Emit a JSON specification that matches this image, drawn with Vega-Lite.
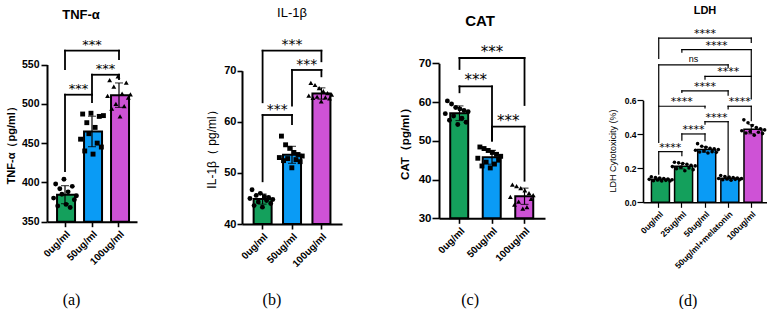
{
"$schema": "https://vega.github.io/schema/vega-lite/v6.json",
"padding": {"left": 5, "top": 4, "right": 0, "bottom": 0},
"config": {
  "view": {"stroke": null},
  "font": "Liberation Sans",
  "axis": {"domainColor": "black", "tickColor": "black", "labelColor": "black", "titleColor": "black", "grid": false, "domainWidth": 2, "tickWidth": 1.6, "labelFont": "Liberation Sans", "titleFont": "Liberation Sans"},
  "title": {"color": "black", "font": "Liberation Sans"}
},
"datasets": {
  "tnf": [
    {"g":"0ug/ml","r":1,"v":380},{"g":"0ug/ml","r":2,"v":398},{"g":"0ug/ml","r":3,"v":370},{"g":"0ug/ml","r":4,"v":392},{"g":"0ug/ml","r":5,"v":385},{"g":"0ug/ml","r":6,"v":404},{"g":"0ug/ml","r":7,"v":372},{"g":"0ug/ml","r":8,"v":388},{"g":"0ug/ml","r":9,"v":368},{"g":"0ug/ml","r":10,"v":395},{"g":"0ug/ml","r":11,"v":378},{"g":"0ug/ml","r":12,"v":383},
    {"g":"50ug/ml","r":1,"v":455},{"g":"50ug/ml","r":2,"v":487},{"g":"50ug/ml","r":3,"v":440},{"g":"50ug/ml","r":4,"v":476},{"g":"50ug/ml","r":5,"v":462},{"g":"50ug/ml","r":6,"v":488},{"g":"50ug/ml","r":7,"v":436},{"g":"50ug/ml","r":8,"v":470},{"g":"50ug/ml","r":9,"v":450},{"g":"50ug/ml","r":10,"v":484},{"g":"50ug/ml","r":11,"v":445},{"g":"50ug/ml","r":12,"v":485},
    {"g":"100ug/ml","r":1,"v":510},{"g":"100ug/ml","r":2,"v":530},{"g":"100ug/ml","r":3,"v":494},{"g":"100ug/ml","r":4,"v":522},{"g":"100ug/ml","r":5,"v":500},{"g":"100ug/ml","r":6,"v":535},{"g":"100ug/ml","r":7,"v":484},{"g":"100ug/ml","r":8,"v":513},{"g":"100ug/ml","r":9,"v":497},{"g":"100ug/ml","r":10,"v":527},{"g":"100ug/ml","r":11,"v":508},{"g":"100ug/ml","r":12,"v":512}
  ],
  "il1b": [
    {"g":"0ug/ml","r":1,"v":45.0},{"g":"0ug/ml","r":2,"v":46.7},{"g":"0ug/ml","r":3,"v":43.6},{"g":"0ug/ml","r":4,"v":45.6},{"g":"0ug/ml","r":5,"v":44.3},{"g":"0ug/ml","r":6,"v":46.0},{"g":"0ug/ml","r":7,"v":43.3},{"g":"0ug/ml","r":8,"v":45.4},{"g":"0ug/ml","r":9,"v":44.6},{"g":"0ug/ml","r":10,"v":45.2},{"g":"0ug/ml","r":11,"v":44.0},{"g":"0ug/ml","r":12,"v":44.8},
    {"g":"50ug/ml","r":1,"v":53.0},{"g":"50ug/ml","r":2,"v":57.2},{"g":"50ug/ml","r":3,"v":52.4},{"g":"50ug/ml","r":4,"v":55.5},{"g":"50ug/ml","r":5,"v":52.8},{"g":"50ug/ml","r":6,"v":54.8},{"g":"50ug/ml","r":7,"v":51.0},{"g":"50ug/ml","r":8,"v":54.0},{"g":"50ug/ml","r":9,"v":52.6},{"g":"50ug/ml","r":10,"v":53.6},{"g":"50ug/ml","r":11,"v":52.2},{"g":"50ug/ml","r":12,"v":53.3},
    {"g":"100ug/ml","r":1,"v":65.1},{"g":"100ug/ml","r":2,"v":67.6},{"g":"100ug/ml","r":3,"v":64.7},{"g":"100ug/ml","r":4,"v":67.2},{"g":"100ug/ml","r":5,"v":64.9},{"g":"100ug/ml","r":6,"v":66.6},{"g":"100ug/ml","r":7,"v":64.0},{"g":"100ug/ml","r":8,"v":66.0},{"g":"100ug/ml","r":9,"v":64.8},{"g":"100ug/ml","r":10,"v":65.6},{"g":"100ug/ml","r":11,"v":64.6},{"g":"100ug/ml","r":12,"v":65.3}
  ],
  "cat": [
    {"g":"0ug/ml","r":1,"v":57.0},{"g":"0ug/ml","r":2,"v":60.3},{"g":"0ug/ml","r":3,"v":55.3},{"g":"0ug/ml","r":4,"v":59.5},{"g":"0ug/ml","r":5,"v":56.4},{"g":"0ug/ml","r":6,"v":58.6},{"g":"0ug/ml","r":7,"v":54.2},{"g":"0ug/ml","r":8,"v":58.2},{"g":"0ug/ml","r":9,"v":55.8},{"g":"0ug/ml","r":10,"v":57.8},{"g":"0ug/ml","r":11,"v":54.8},{"g":"0ug/ml","r":12,"v":57.5},
    {"g":"50ug/ml","r":1,"v":45.5},{"g":"50ug/ml","r":2,"v":48.4},{"g":"50ug/ml","r":3,"v":43.5},{"g":"50ug/ml","r":4,"v":48.0},{"g":"50ug/ml","r":5,"v":44.5},{"g":"50ug/ml","r":6,"v":47.5},{"g":"50ug/ml","r":7,"v":43.0},{"g":"50ug/ml","r":8,"v":47.0},{"g":"50ug/ml","r":9,"v":44.0},{"g":"50ug/ml","r":10,"v":46.5},{"g":"50ug/ml","r":11,"v":45.0},{"g":"50ug/ml","r":12,"v":46.0},
    {"g":"100ug/ml","r":1,"v":35.5},{"g":"100ug/ml","r":2,"v":38.7},{"g":"100ug/ml","r":3,"v":33.5},{"g":"100ug/ml","r":4,"v":38.3},{"g":"100ug/ml","r":5,"v":34.3},{"g":"100ug/ml","r":6,"v":37.8},{"g":"100ug/ml","r":7,"v":32.5},{"g":"100ug/ml","r":8,"v":37.2},{"g":"100ug/ml","r":9,"v":32.9},{"g":"100ug/ml","r":10,"v":36.5},{"g":"100ug/ml","r":11,"v":35.0},{"g":"100ug/ml","r":12,"v":36.0}
  ],
  "ldh": [
    {"g":"0ug/ml","r":1,"v":0.135},{"g":"0ug/ml","r":2,"v":0.150},{"g":"0ug/ml","r":3,"v":0.127},{"g":"0ug/ml","r":4,"v":0.146},{"g":"0ug/ml","r":5,"v":0.131},{"g":"0ug/ml","r":6,"v":0.142},{"g":"0ug/ml","r":7,"v":0.125},{"g":"0ug/ml","r":8,"v":0.140},{"g":"0ug/ml","r":9,"v":0.129},{"g":"0ug/ml","r":10,"v":0.137},{"g":"0ug/ml","r":11,"v":0.125},{"g":"0ug/ml","r":12,"v":0.133},
    {"g":"25ug/ml","r":1,"v":0.210},{"g":"25ug/ml","r":2,"v":0.236},{"g":"25ug/ml","r":3,"v":0.198},{"g":"25ug/ml","r":4,"v":0.232},{"g":"25ug/ml","r":5,"v":0.206},{"g":"25ug/ml","r":6,"v":0.228},{"g":"25ug/ml","r":7,"v":0.186},{"g":"25ug/ml","r":8,"v":0.224},{"g":"25ug/ml","r":9,"v":0.202},{"g":"25ug/ml","r":10,"v":0.218},{"g":"25ug/ml","r":11,"v":0.192},{"g":"25ug/ml","r":12,"v":0.214},
    {"g":"50ug/ml","r":1,"v":0.306},{"g":"50ug/ml","r":2,"v":0.345},{"g":"50ug/ml","r":3,"v":0.296},{"g":"50ug/ml","r":4,"v":0.330},{"g":"50ug/ml","r":5,"v":0.302},{"g":"50ug/ml","r":6,"v":0.324},{"g":"50ug/ml","r":7,"v":0.290},{"g":"50ug/ml","r":8,"v":0.318},{"g":"50ug/ml","r":9,"v":0.298},{"g":"50ug/ml","r":10,"v":0.314},{"g":"50ug/ml","r":11,"v":0.294},{"g":"50ug/ml","r":12,"v":0.310},
    {"g":"50ug/ml+melatonin","r":1,"v":0.140},{"g":"50ug/ml+melatonin","r":2,"v":0.158},{"g":"50ug/ml+melatonin","r":3,"v":0.133},{"g":"50ug/ml+melatonin","r":4,"v":0.152},{"g":"50ug/ml+melatonin","r":5,"v":0.137},{"g":"50ug/ml+melatonin","r":6,"v":0.148},{"g":"50ug/ml+melatonin","r":7,"v":0.130},{"g":"50ug/ml+melatonin","r":8,"v":0.145},{"g":"50ug/ml+melatonin","r":9,"v":0.135},{"g":"50ug/ml+melatonin","r":10,"v":0.142},{"g":"50ug/ml+melatonin","r":11,"v":0.132},{"g":"50ug/ml+melatonin","r":12,"v":0.139},
    {"g":"100ug/ml","r":1,"v":0.421},{"g":"100ug/ml","r":2,"v":0.485},{"g":"100ug/ml","r":3,"v":0.408},{"g":"100ug/ml","r":4,"v":0.468},{"g":"100ug/ml","r":5,"v":0.416},{"g":"100ug/ml","r":6,"v":0.452},{"g":"100ug/ml","r":7,"v":0.395},{"g":"100ug/ml","r":8,"v":0.440},{"g":"100ug/ml","r":9,"v":0.412},{"g":"100ug/ml","r":10,"v":0.432},{"g":"100ug/ml","r":11,"v":0.404},{"g":"100ug/ml","r":12,"v":0.426}
  ],
  "bra": [
    {"from":"0ug/ml","to":"50ug/ml","y":511.6,"yl":414.5,"yr":502.3,"lab":"***","at":"0ug/ml","p":"b"},
    {"from":"50ug/ml","to":"100ug/ml","y":537.0,"yl":511.6,"yr":531.6,"lab":"***","at":"50ug/ml","p":"b"},
    {"from":"0ug/ml","to":"100ug/ml","y":567.6,"yl":544.3,"yr":557.0,"lab":"***","at":"50ug/ml","p":"c"}
  ],
  "brb": [
    {"from":"0ug/ml","to":"50ug/ml","y":61.33,"yl":48.36,"yr":59.57,"lab":"***","at":"0ug/ml","p":"b"},
    {"from":"50ug/ml","to":"100ug/ml","y":70.14,"yl":63.15,"yr":68.9,"lab":"***","at":"50ug/ml","p":"b"},
    {"from":"0ug/ml","to":"100ug/ml","y":73.91,"yl":63.82,"yr":71.84,"lab":"***","at":"50ug/ml","p":"c"}
  ],
  "brc": [
    {"from":"0ug/ml","to":"50ug/ml","y":64.06,"yl":62.52,"yr":50.03,"lab":"***","at":"0ug/ml","p":"b"},
    {"from":"50ug/ml","to":"100ug/ml","y":53.64,"yl":50.03,"yr":39.7,"lab":"***","at":"50ug/ml","p":"b"},
    {"from":"0ug/ml","to":"100ug/ml","y":71.37,"yl":68.53,"yr":59.24,"lab":"***","at":"50ug/ml","p":"c"}
  ],
  "brd": [
    {"from":"0ug/ml","to":"25ug/ml","y":0.298,"yl":0.166,"yr":0.274,"lab":"****","at":"0ug/ml","p":"b"},
    {"from":"25ug/ml","to":"50ug/ml","y":0.402,"yl":0.366,"yr":0.362,"lab":"****","at":"25ug/ml","p":"b"},
    {"from":"50ug/ml","to":"50ug/ml+melatonin","y":0.474,"yl":0.46,"yr":0.16,"lab":"****","at":"50ug/ml","p":"b"},
    {"from":"0ug/ml","to":"50ug/ml","y":0.565,"yl":0.353,"yr":0.556,"lab":"****","at":"25ug/ml","p":"c"},
    {"from":"50ug/ml+melatonin","to":"100ug/ml","y":0.565,"yl":0.549,"yr":0.48,"lab":"****","at":"50ug/ml+melatonin","p":"b"},
    {"from":"25ug/ml","to":"50ug/ml+melatonin","y":0.656,"yl":0.646,"yr":0.631,"lab":"****","at":"50ug/ml","p":"c"},
    {"from":"50ug/ml","to":"100ug/ml","y":0.741,"yl":0.725,"yr":0.608,"lab":"****","at":"50ug/ml+melatonin","p":"c"},
    {"from":"0ug/ml","to":"50ug/ml+melatonin","y":0.809,"yl":0.568,"yr":0.794,"lab":"ns","at":"25ug/ml","p":"b"},
    {"from":"25ug/ml","to":"100ug/ml","y":0.898,"yl":0.884,"yr":0.745,"lab":"****","at":"50ug/ml","p":"b"},
    {"from":"0ug/ml","to":"100ug/ml","y":0.966,"yl":0.847,"yr":0.941,"lab":"****","at":"50ug/ml","p":"c"}
  ]
},
"spacing": 57,
"hconcat": [
 {"spacing": 68,
  "hconcat": [
  {
   "width": 90, "height": 196.7,
   "title": {"text": "TNF-α", "fontSize": 13, "fontWeight": "bold", "frame": "group", "anchor": "middle", "dx": -11, "dy": -3.5, "offset": 0},
   "layer": [
    {"data": {"name": "tnf"}, "mark": {"type": "bar", "stroke": "black", "strokeWidth": 2, "width": {"band": 0.59}},
     "encoding": {
      "x": {"field": "g", "type": "nominal", "title": "(a)", "scale": {"domain": ["0ug/ml","50ug/ml","100ug/ml"], "paddingInner": 0, "paddingOuter": 0.167},
            "axis": {"titleFont": "Liberation Serif", "titleFontSize": 16, "titleFontWeight": "normal", "titleX": 24, "titleY": 78, "titleAlign": "center", "titleBaseline": "middle", "titleAngle": 0, "labelAngle": -45, "labelFontSize": 10, "labelFontWeight": "bold", "labelPadding": 2, "tickSize": 5}},
      "y": {"field": "v", "aggregate": "mean", "type": "quantitative", "title": "TNF-α（pg/ml）", "scale": {"domain": [350, 600.3], "nice": false, "zero": false},
            "axis": {"values": [350,400,450,500,550], "domainDash": [157.2, 1000], "tickSize": 6, "labelPadding": 2, "labelFontSize": 10.5, "labelFontWeight": "bold", "titleFontSize": 11, "titleFontWeight": "bold", "titleX": -35.7, "titleY": 117.3, "titleAngle": -90, "titleAlign": "center", "titleBaseline": "middle"}},
      "fill": {"field": "g", "type": "nominal", "scale": {"domain": ["0ug/ml","50ug/ml","100ug/ml"], "range": ["#14A05C", "#0A9BF5", "#CE52D6"]}, "legend": null}
     }},
    {"data": {"name": "tnf"}, "mark": {"type": "errorbar", "extent": "stdev", "color": "black", "ticks": true, "size": 8, "thickness": 1.2},
     "encoding": {"x": {"field": "g", "type": "nominal", "title": "(a)", "scale": {"domain": ["0ug/ml","50ug/ml","100ug/ml"]}}, "y": {"field": "v", "type": "quantitative", "title": "TNF-α（pg/ml）", "scale": {"domain": [350, 600.3], "nice": false, "zero": false}}}},
    {"data": {"name": "tnf"}, "mark": {"type": "point", "filled": true, "color": "black", "opacity": 1, "size": 24},
     "encoding": {"x": {"field": "g", "type": "nominal", "title": "(a)", "scale": {"domain": ["0ug/ml","50ug/ml","100ug/ml"]}},
      "xOffset": {"field": "r", "type": "nominal", "scale": {"paddingInner": 0, "paddingOuter": 4.6}},
      "y": {"field": "v", "type": "quantitative", "title": "TNF-α（pg/ml）", "scale": {"domain": [350, 600.3], "nice": false, "zero": false}},
      "shape": {"field": "g", "type": "nominal", "scale": {"domain": ["0ug/ml","50ug/ml","100ug/ml"], "range": ["circle","square","triangle-up"]}, "legend": null}}},
    {"data": {"name": "bra"}, "mark": {"type": "rule", "color": "black", "strokeWidth": 1.8, "strokeCap": "square"},
     "encoding": {"x": {"field": "from", "type": "nominal", "title": "(a)", "scale": {"domain": ["0ug/ml","50ug/ml","100ug/ml"]}}, "x2": {"field": "to"}, "y": {"field": "y", "type": "quantitative", "title": "TNF-α（pg/ml）", "scale": {"domain": [350, 600.3], "nice": false, "zero": false}}}},
    {"data": {"name": "bra"}, "mark": {"type": "rule", "color": "black", "strokeWidth": 1.8, "strokeCap": "square"},
     "encoding": {"x": {"field": "from", "type": "nominal", "title": "(a)", "scale": {"domain": ["0ug/ml","50ug/ml","100ug/ml"]}}, "y": {"field": "y", "type": "quantitative", "title": "TNF-α（pg/ml）", "scale": {"domain": [350, 600.3], "nice": false, "zero": false}}, "y2": {"field": "yl"}}},
    {"data": {"name": "bra"}, "mark": {"type": "rule", "color": "black", "strokeWidth": 1.8, "strokeCap": "square"},
     "encoding": {"x": {"field": "to", "type": "nominal", "title": "(a)", "scale": {"domain": ["0ug/ml","50ug/ml","100ug/ml"]}}, "y": {"field": "y", "type": "quantitative", "title": "TNF-α（pg/ml）", "scale": {"domain": [350, 600.3], "nice": false, "zero": false}}, "y2": {"field": "yr"}}},
    {"data": {"name": "bra"}, "transform": [{"filter": "datum.p == 'b'"}], "mark": {"type": "text", "font": "DejaVu Sans", "fontSize": 13, "baseline": "alphabetic", "dy": -2, "color": "black"},
     "encoding": {"x": {"field": "at", "type": "nominal", "title": "(a)", "bandPosition": 1, "scale": {"domain": ["0ug/ml","50ug/ml","100ug/ml"]}}, "y": {"field": "y", "type": "quantitative", "title": "TNF-α（pg/ml）", "scale": {"domain": [350, 600.3], "nice": false, "zero": false}}, "text": {"field": "lab"}}},
    {"data": {"name": "bra"}, "transform": [{"filter": "datum.p == 'c'"}], "mark": {"type": "text", "font": "DejaVu Sans", "fontSize": 13, "baseline": "alphabetic", "dy": -2, "color": "black"},
     "encoding": {"x": {"field": "at", "type": "nominal", "title": "(a)", "bandPosition": 0.5, "scale": {"domain": ["0ug/ml","50ug/ml","100ug/ml"]}}, "y": {"field": "y", "type": "quantitative", "title": "TNF-α（pg/ml）", "scale": {"domain": [350, 600.3], "nice": false, "zero": false}}, "text": {"field": "lab"}}}
   ]
  },
  {
   "width": 100, "height": 199,
   "title": {"text": "IL-1β", "fontSize": 13, "fontWeight": "normal", "frame": "group", "anchor": "middle", "dx": 0, "dy": -5, "offset": 0},
   "layer": [
    {"data": {"name": "il1b"}, "mark": {"type": "bar", "stroke": "black", "strokeWidth": 2, "width": {"band": 0.61}},
     "encoding": {
      "x": {"field": "g", "type": "nominal", "title": "(b)", "scale": {"domain": ["0ug/ml","50ug/ml","100ug/ml"], "paddingInner": 0, "paddingOuter": 0.2},
            "axis": {"titleFont": "Liberation Serif", "titleFontSize": 16, "titleFontWeight": "normal", "titleX": 29.4, "titleY": 75.3, "titleAlign": "center", "titleBaseline": "middle", "titleAngle": 0, "labelAngle": -45, "labelFontSize": 10, "labelFontWeight": "bold", "labelPadding": 2, "tickSize": 5}},
      "y": {"field": "v", "aggregate": "mean", "type": "quantitative", "title": "IL-1β（ pg/ml）", "scale": {"domain": [40, 78.94], "nice": false, "zero": false},
            "axis": {"values": [40,50,60,70], "domainDash": [153.3, 1000], "tickSize": 5, "labelPadding": 1, "labelFontSize": 11, "labelFontWeight": "bold", "titleFontSize": 12, "titleFontWeight": "normal", "titleX": -30.8, "titleY": 121, "titleAngle": -90, "titleAlign": "center", "titleBaseline": "middle"}},
      "fill": {"field": "g", "type": "nominal", "scale": {"domain": ["0ug/ml","50ug/ml","100ug/ml"], "range": ["#16C47E", "#0A9BF5", "#CE52D6"]}, "legend": null}
     }},
    {"data": {"name": "il1b"}, "mark": {"type": "errorbar", "extent": "stdev", "color": "black", "ticks": true, "size": 8, "thickness": 1.2},
     "encoding": {"x": {"field": "g", "type": "nominal", "title": "(b)", "scale": {"domain": ["0ug/ml","50ug/ml","100ug/ml"]}}, "y": {"field": "v", "type": "quantitative", "title": "IL-1β（ pg/ml）", "scale": {"domain": [40, 78.94], "nice": false, "zero": false}}}},
    {"data": {"name": "il1b"}, "mark": {"type": "point", "filled": true, "color": "black", "opacity": 1, "size": 24},
     "encoding": {"x": {"field": "g", "type": "nominal", "title": "(b)", "scale": {"domain": ["0ug/ml","50ug/ml","100ug/ml"]}},
      "xOffset": {"field": "r", "type": "nominal", "scale": {"paddingInner": 0, "paddingOuter": 5.5}},
      "y": {"field": "v", "type": "quantitative", "title": "IL-1β（ pg/ml）", "scale": {"domain": [40, 78.94], "nice": false, "zero": false}},
      "shape": {"field": "g", "type": "nominal", "scale": {"domain": ["0ug/ml","50ug/ml","100ug/ml"], "range": ["circle","square","triangle-up"]}, "legend": null}}},
    {"data": {"name": "brb"}, "mark": {"type": "rule", "color": "black", "strokeWidth": 1.8, "strokeCap": "square"},
     "encoding": {"x": {"field": "from", "type": "nominal", "title": "(b)", "scale": {"domain": ["0ug/ml","50ug/ml","100ug/ml"]}}, "x2": {"field": "to"}, "y": {"field": "y", "type": "quantitative", "title": "IL-1β（ pg/ml）", "scale": {"domain": [40, 78.94], "nice": false, "zero": false}}}},
    {"data": {"name": "brb"}, "mark": {"type": "rule", "color": "black", "strokeWidth": 1.8, "strokeCap": "square"},
     "encoding": {"x": {"field": "from", "type": "nominal", "title": "(b)", "scale": {"domain": ["0ug/ml","50ug/ml","100ug/ml"]}}, "y": {"field": "y", "type": "quantitative", "title": "IL-1β（ pg/ml）", "scale": {"domain": [40, 78.94], "nice": false, "zero": false}}, "y2": {"field": "yl"}}},
    {"data": {"name": "brb"}, "mark": {"type": "rule", "color": "black", "strokeWidth": 1.8, "strokeCap": "square"},
     "encoding": {"x": {"field": "to", "type": "nominal", "title": "(b)", "scale": {"domain": ["0ug/ml","50ug/ml","100ug/ml"]}}, "y": {"field": "y", "type": "quantitative", "title": "IL-1β（ pg/ml）", "scale": {"domain": [40, 78.94], "nice": false, "zero": false}}, "y2": {"field": "yr"}}},
    {"data": {"name": "brb"}, "transform": [{"filter": "datum.p == 'b'"}], "mark": {"type": "text", "font": "DejaVu Sans", "fontSize": 14, "baseline": "alphabetic", "dy": -1.3, "color": "black"},
     "encoding": {"x": {"field": "at", "type": "nominal", "title": "(b)", "bandPosition": 1, "scale": {"domain": ["0ug/ml","50ug/ml","100ug/ml"]}}, "y": {"field": "y", "type": "quantitative", "title": "IL-1β（ pg/ml）", "scale": {"domain": [40, 78.94], "nice": false, "zero": false}}, "text": {"field": "lab"}}},
    {"data": {"name": "brb"}, "transform": [{"filter": "datum.p == 'c'"}], "mark": {"type": "text", "font": "DejaVu Sans", "fontSize": 14, "baseline": "alphabetic", "dy": -1.3, "color": "black"},
     "encoding": {"x": {"field": "at", "type": "nominal", "title": "(b)", "bandPosition": 0.5, "scale": {"domain": ["0ug/ml","50ug/ml","100ug/ml"]}}, "y": {"field": "y", "type": "quantitative", "title": "IL-1β（ pg/ml）", "scale": {"domain": [40, 78.94], "nice": false, "zero": false}}, "text": {"field": "lab"}}}
   ]
  }
  ]
 },
 {"spacing": 63,
  "hconcat": [
  {
   "width": 106, "height": 193.3,
   "title": {"text": "CAT", "fontSize": 15, "fontWeight": "bold", "frame": "group", "anchor": "middle", "dx": -12, "dy": 4, "offset": 0},
   "layer": [
    {"data": {"name": "cat"}, "mark": {"type": "bar", "stroke": "black", "strokeWidth": 2, "width": {"band": 0.57}},
     "encoding": {
      "x": {"field": "g", "type": "nominal", "title": "(c)", "scale": {"domain": ["0ug/ml","50ug/ml","100ug/ml"], "paddingInner": 0, "paddingOuter": 0.13},
            "axis": {"titleFont": "Liberation Serif", "titleFontSize": 16, "titleFontWeight": "normal", "titleX": 30.6, "titleY": 81.5, "titleAlign": "center", "titleBaseline": "middle", "titleAngle": 0, "labelAngle": -45, "labelFontSize": 10, "labelFontWeight": "bold", "labelPadding": 2, "tickSize": 5}},
      "y": {"field": "v", "aggregate": "mean", "type": "quantitative", "title": "CAT（pg/ml）", "scale": {"domain": [30, 79.88], "nice": false, "zero": false},
            "axis": {"values": [30,40,50,60,70], "domainDash": [155, 1000], "tickSize": 7, "labelPadding": 1, "labelFontSize": 11.5, "labelFontWeight": "bold", "titleFontSize": 11.5, "titleFontWeight": "bold", "titleX": -33.2, "titleY": 115.7, "titleAngle": -90, "titleAlign": "center", "titleBaseline": "middle"}},
      "fill": {"field": "g", "type": "nominal", "scale": {"domain": ["0ug/ml","50ug/ml","100ug/ml"], "range": ["#18BC7A", "#0A9BF5", "#CE52D6"]}, "legend": null}
     }},
    {"data": {"name": "cat"}, "mark": {"type": "errorbar", "extent": "stdev", "color": "black", "ticks": true, "size": 8, "thickness": 1.2},
     "encoding": {"x": {"field": "g", "type": "nominal", "title": "(c)", "scale": {"domain": ["0ug/ml","50ug/ml","100ug/ml"]}}, "y": {"field": "v", "type": "quantitative", "title": "CAT（pg/ml）", "scale": {"domain": [30, 79.88], "nice": false, "zero": false}}}},
    {"data": {"name": "cat"}, "mark": {"type": "point", "filled": true, "color": "black", "opacity": 1, "size": 24},
     "encoding": {"x": {"field": "g", "type": "nominal", "title": "(c)", "scale": {"domain": ["0ug/ml","50ug/ml","100ug/ml"]}},
      "xOffset": {"field": "r", "type": "nominal", "scale": {"paddingInner": 0, "paddingOuter": 5.9}},
      "y": {"field": "v", "type": "quantitative", "title": "CAT（pg/ml）", "scale": {"domain": [30, 79.88], "nice": false, "zero": false}},
      "shape": {"field": "g", "type": "nominal", "scale": {"domain": ["0ug/ml","50ug/ml","100ug/ml"], "range": ["circle","square","triangle-up"]}, "legend": null}}},
    {"data": {"name": "brc"}, "mark": {"type": "rule", "color": "black", "strokeWidth": 1.8, "strokeCap": "square"},
     "encoding": {"x": {"field": "from", "type": "nominal", "title": "(c)", "scale": {"domain": ["0ug/ml","50ug/ml","100ug/ml"]}}, "x2": {"field": "to"}, "y": {"field": "y", "type": "quantitative", "title": "CAT（pg/ml）", "scale": {"domain": [30, 79.88], "nice": false, "zero": false}}}},
    {"data": {"name": "brc"}, "mark": {"type": "rule", "color": "black", "strokeWidth": 1.8, "strokeCap": "square"},
     "encoding": {"x": {"field": "from", "type": "nominal", "title": "(c)", "scale": {"domain": ["0ug/ml","50ug/ml","100ug/ml"]}}, "y": {"field": "y", "type": "quantitative", "title": "CAT（pg/ml）", "scale": {"domain": [30, 79.88], "nice": false, "zero": false}}, "y2": {"field": "yl"}}},
    {"data": {"name": "brc"}, "mark": {"type": "rule", "color": "black", "strokeWidth": 1.8, "strokeCap": "square"},
     "encoding": {"x": {"field": "to", "type": "nominal", "title": "(c)", "scale": {"domain": ["0ug/ml","50ug/ml","100ug/ml"]}}, "y": {"field": "y", "type": "quantitative", "title": "CAT（pg/ml）", "scale": {"domain": [30, 79.88], "nice": false, "zero": false}}, "y2": {"field": "yr"}}},
    {"data": {"name": "brc"}, "transform": [{"filter": "datum.p == 'b'"}], "mark": {"type": "text", "font": "DejaVu Sans", "fontSize": 15, "baseline": "alphabetic", "dy": -1, "color": "black"},
     "encoding": {"x": {"field": "at", "type": "nominal", "title": "(c)", "bandPosition": 1, "scale": {"domain": ["0ug/ml","50ug/ml","100ug/ml"]}}, "y": {"field": "y", "type": "quantitative", "title": "CAT（pg/ml）", "scale": {"domain": [30, 79.88], "nice": false, "zero": false}}, "text": {"field": "lab"}}},
    {"data": {"name": "brc"}, "transform": [{"filter": "datum.p == 'c'"}], "mark": {"type": "text", "font": "DejaVu Sans", "fontSize": 15, "baseline": "alphabetic", "dy": -1, "color": "black"},
     "encoding": {"x": {"field": "at", "type": "nominal", "title": "(c)", "bandPosition": 0.5, "scale": {"domain": ["0ug/ml","50ug/ml","100ug/ml"]}}, "y": {"field": "y", "type": "quantitative", "title": "CAT（pg/ml）", "scale": {"domain": [30, 79.88], "nice": false, "zero": false}}, "text": {"field": "lab"}}}
   ]
  },
  {
   "width": 124, "height": 177.3,
   "title": {"text": "LDH", "fontSize": 11, "fontWeight": "bold", "frame": "group", "anchor": "middle", "dx": 0, "dy": -9.3, "offset": 0},
   "layer": [
    {"data": {"name": "ldh"}, "mark": {"type": "bar", "stroke": "black", "strokeWidth": 1.5, "width": {"band": 0.63}},
     "encoding": {
      "x": {"field": "g", "type": "nominal", "title": "(d)", "scale": {"domain": ["0ug/ml","25ug/ml","50ug/ml","50ug/ml+melatonin","100ug/ml"], "paddingInner": 0, "paddingOuter": 0.18},
            "axis": {"titleFont": "Liberation Serif", "titleFontSize": 16, "titleFontWeight": "normal", "titleX": 44.5, "titleY": 97.9, "titleAlign": "center", "titleBaseline": "middle", "titleAngle": 0, "labelAngle": -45, "labelFontSize": 8.5, "labelFontWeight": "bold", "labelPadding": 2, "tickSize": 5, "tickWidth": 1.2, "domainWidth": 1.6}},
      "y": {"field": "v", "aggregate": "mean", "type": "quantitative", "title": "LDH Cytotoxicity (%)", "scale": {"domain": [0, 1.043], "nice": false, "zero": false},
            "axis": {"values": [0,0.2,0.4,0.6], "format": ".1f", "domainDash": [102, 1000], "tickSize": 6, "tickWidth": 1.2, "domainWidth": 1.6, "labelPadding": 1, "labelFontSize": 8.5, "labelFontWeight": "bold", "titleFontSize": 9, "titleFontWeight": "normal", "titleX": -30.3, "titleY": 125.5, "titleAngle": -90, "titleAlign": "center", "titleBaseline": "middle"}},
      "fill": {"field": "g", "type": "nominal", "scale": {"domain": ["0ug/ml","25ug/ml","50ug/ml","50ug/ml+melatonin","100ug/ml"], "range": ["#D4D4D4", "#A8A8AC", "#8A8A8A", "#FF0A84", "#5E5E5E"]}, "legend": null}
     }},
    {"data": {"name": "ldh"}, "mark": {"type": "errorbar", "extent": "stdev", "color": "black", "ticks": true, "size": 6, "thickness": 1},
     "encoding": {"x": {"field": "g", "type": "nominal", "title": "(d)", "scale": {"domain": ["0ug/ml","25ug/ml","50ug/ml","50ug/ml+melatonin","100ug/ml"]}}, "y": {"field": "v", "type": "quantitative", "title": "LDH Cytotoxicity (%)", "scale": {"domain": [0, 1.043], "nice": false, "zero": false}}}},
    {"data": {"name": "ldh"}, "mark": {"type": "point", "filled": true, "color": "black", "opacity": 1, "size": 13, "shape": "circle"},
     "encoding": {"x": {"field": "g", "type": "nominal", "title": "(d)", "scale": {"domain": ["0ug/ml","25ug/ml","50ug/ml","50ug/ml+melatonin","100ug/ml"]}},
      "xOffset": {"field": "r", "type": "nominal", "scale": {"paddingInner": 0, "paddingOuter": 6.7}},
      "y": {"field": "v", "type": "quantitative", "title": "LDH Cytotoxicity (%)", "scale": {"domain": [0, 1.043], "nice": false, "zero": false}}}},
    {"data": {"name": "brd"}, "mark": {"type": "rule", "color": "black", "strokeWidth": 1.2, "strokeCap": "square"},
     "encoding": {"x": {"field": "from", "type": "nominal", "title": "(d)", "scale": {"domain": ["0ug/ml","25ug/ml","50ug/ml","50ug/ml+melatonin","100ug/ml"]}}, "x2": {"field": "to"}, "y": {"field": "y", "type": "quantitative", "title": "LDH Cytotoxicity (%)", "scale": {"domain": [0, 1.043], "nice": false, "zero": false}}}},
    {"data": {"name": "brd"}, "mark": {"type": "rule", "color": "black", "strokeWidth": 1.2, "strokeCap": "square"},
     "encoding": {"x": {"field": "from", "type": "nominal", "title": "(d)", "scale": {"domain": ["0ug/ml","25ug/ml","50ug/ml","50ug/ml+melatonin","100ug/ml"]}}, "y": {"field": "y", "type": "quantitative", "title": "LDH Cytotoxicity (%)", "scale": {"domain": [0, 1.043], "nice": false, "zero": false}}, "y2": {"field": "yl"}}},
    {"data": {"name": "brd"}, "mark": {"type": "rule", "color": "black", "strokeWidth": 1.2, "strokeCap": "square"},
     "encoding": {"x": {"field": "to", "type": "nominal", "title": "(d)", "scale": {"domain": ["0ug/ml","25ug/ml","50ug/ml","50ug/ml+melatonin","100ug/ml"]}}, "y": {"field": "y", "type": "quantitative", "title": "LDH Cytotoxicity (%)", "scale": {"domain": [0, 1.043], "nice": false, "zero": false}}, "y2": {"field": "yr"}}},
    {"data": {"name": "brd"}, "transform": [{"filter": "datum.p == 'b' && datum.lab != 'ns'"}], "mark": {"type": "text", "font": "DejaVu Sans", "fontSize": 11, "baseline": "alphabetic", "dy": -1, "color": "black"},
     "encoding": {"x": {"field": "at", "type": "nominal", "title": "(d)", "bandPosition": 1, "scale": {"domain": ["0ug/ml","25ug/ml","50ug/ml","50ug/ml+melatonin","100ug/ml"]}}, "y": {"field": "y", "type": "quantitative", "title": "LDH Cytotoxicity (%)", "scale": {"domain": [0, 1.043], "nice": false, "zero": false}}, "text": {"field": "lab"}}},
    {"data": {"name": "brd"}, "transform": [{"filter": "datum.p == 'c'"}], "mark": {"type": "text", "font": "DejaVu Sans", "fontSize": 11, "baseline": "alphabetic", "dy": -1, "color": "black"},
     "encoding": {"x": {"field": "at", "type": "nominal", "title": "(d)", "bandPosition": 0.5, "scale": {"domain": ["0ug/ml","25ug/ml","50ug/ml","50ug/ml+melatonin","100ug/ml"]}}, "y": {"field": "y", "type": "quantitative", "title": "LDH Cytotoxicity (%)", "scale": {"domain": [0, 1.043], "nice": false, "zero": false}}, "text": {"field": "lab"}}},
    {"data": {"name": "brd"}, "transform": [{"filter": "datum.lab == 'ns'"}], "mark": {"type": "text", "font": "Liberation Sans", "fontSize": 9, "baseline": "alphabetic", "dy": -3, "color": "black"},
     "encoding": {"x": {"field": "at", "type": "nominal", "title": "(d)", "bandPosition": 1, "scale": {"domain": ["0ug/ml","25ug/ml","50ug/ml","50ug/ml+melatonin","100ug/ml"]}}, "y": {"field": "y", "type": "quantitative", "title": "LDH Cytotoxicity (%)", "scale": {"domain": [0, 1.043], "nice": false, "zero": false}}, "text": {"field": "lab"}}}
   ]
  }
  ]
 }
]
}
